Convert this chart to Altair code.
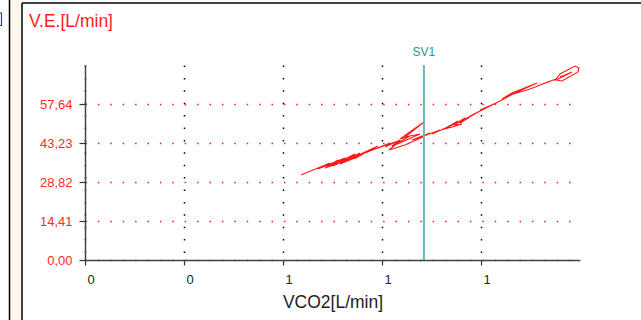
import altair as alt
import pandas as pd

# ---- data ----
vco2 = [0.6545, 0.7424, 0.7061, 0.7879, 0.7182, 0.8030, 0.7515, 0.8333, 0.7727, 0.8394,
        0.7273, 0.7667, 0.7364, 0.8182, 0.7803, 0.8576, 0.8212,
        0.7970, 0.8697, 0.8091, 0.8879, 0.8485, 0.9242, 0.8788, 0.9394, 0.9091, 0.9545,
        0.9303, 0.9848, 0.9545, 1.0273, 0.9697, 1.0152, 0.9394, 0.9212, 0.9697, 1.0303,
        0.9909, 1.0455, 1.0091, 1.0758, 1.0515, 1.1061, 1.0818, 1.1303, 1.0970, 1.1212,
        1.0909, 1.1424, 1.1152, 1.1667, 1.1364,
        1.1515, 1.1212, 1.1818, 1.1515, 1.2030, 1.1667, 1.2273, 1.1970, 1.2455,
        1.2152, 1.2576, 1.3030, 1.3697, 1.2939, 1.2636, 1.3182, 1.2879, 1.3485, 1.4091,
        1.3788, 1.4273, 1.4394, 1.4848, 1.4970, 1.4939, 1.4455, 1.4273, 1.4758, 1.4394]
ve = [31.41, 35.84, 33.62, 37.69, 34.36, 37.69, 34.73, 39.54, 35.47, 38.80,
      33.99, 36.95, 34.36, 39.17, 35.84, 40.27, 37.69,
      36.95, 40.64, 37.69, 42.12, 39.54, 43.23, 41.01, 43.60, 41.75, 44.34,
      42.12, 45.82, 44.71, 50.99, 45.45, 46.56, 42.49, 40.64, 42.49, 45.82,
      44.34, 46.93, 45.08, 48.03, 46.56, 49.51, 48.03, 51.36, 48.77, 50.62,
      48.40, 50.25, 49.88, 52.84, 50.62,
      52.47, 50.25, 53.95, 52.10, 55.42, 53.21, 56.90, 55.42, 58.01,
      56.16, 58.75, 61.70, 65.40, 61.70, 59.49, 62.44, 60.97, 63.18, 66.14,
      64.66, 66.88, 68.73, 71.68, 70.94, 69.46, 66.14, 66.51, 69.46, 67.62]
y_ticks = [0.0, 14.41, 28.82, 43.23, 57.64]
x_ticks = [0.0, 0.3, 0.6, 0.9, 1.2]
x_domain = [0.0, 1.5]
y_domain = [0.0, 72.05]
sv1_x = [1.027]
sv1_label = ["SV1"]
title_text = "V.E.[L/min]"
x_title = "VCO2[L/min]"

W, H = 495, 195
PAD = {"left": 85, "top": 65, "right": 61, "bottom": 60}

trace = pd.DataFrame({"i": list(range(len(vco2))), "vco2": vco2, "ve": ve})
one = pd.DataFrame({"k": [0]})
sv1 = pd.DataFrame({"x": sv1_x, "label": sv1_label})

xs = alt.Scale(domain=x_domain, nice=False, zero=False)
ys = alt.Scale(domain=y_domain, nice=False)

x_axis = alt.Axis(
    values=x_ticks, title=x_title,
    labelExpr="format(datum.value, '.0f')",
    labelAlign="left", labelOffset=2, labelBaseline="top", labelPadding=8,
    labelFontSize=13, labelColor="#222",
    tickSize=5, tickColor="#333", tickWidth=1.2,
    domainColor="#444", domainWidth=1.5,
    grid=True, gridColor="black", gridDash=[1.5, 10.9], gridWidth=1.5,
    titleFontSize=17.5, titleFontWeight="normal", titleColor="#222",
    titleBaseline="alphabetic", titleY=47, titleX=W / 2, titleAlign="center",
)
y_axis = alt.Axis(
    values=y_ticks, title=None,
    labelExpr="replace(format(datum.value, '.2f'), '.', ',')",
    labelFontSize=13, labelColor="#ff2a2a", labelPadding=7,
    tickSize=6, tickColor="#333", tickWidth=1.2,
    domainColor="#444", domainWidth=1.5,
    grid=True, gridColor="#ff1a1a", gridDash=[1.5, 10.9], gridWidth=1.5,
)

line = alt.Chart(trace).mark_line(color="#ff1a1a", strokeWidth=1.1).encode(
    x=alt.X("vco2:Q", scale=xs, axis=x_axis),
    y=alt.Y("ve:Q", scale=ys, axis=y_axis),
    order="i:Q",
)

sv1_rule = alt.Chart(sv1).mark_rule(color="#6ab4b4", strokeWidth=2).encode(
    x=alt.X("x:Q", scale=xs), y=alt.value(0), y2=alt.value(H)
)
sv1_text = alt.Chart(sv1).mark_text(color="#2e9696", fontSize=12, baseline="middle").encode(
    x=alt.X("x:Q", scale=xs), y=alt.value(-13), text="label:N"
)

title = alt.Chart(one).mark_text(
    text=title_text, color="#ff1a1a", fontSize=17.5, align="left", baseline="alphabetic"
).encode(x=alt.value(-56), y=alt.value(-38))

# panel frame decorations
cream = alt.Chart(one).mark_rect(color="#fdf8ec").encode(
    x=alt.value(-75), x2=alt.value(-63.5), y=alt.value(-65), y2=alt.value(255)
)
frame_top = alt.Chart(one).mark_rule(color="black", strokeWidth=1.5).encode(
    x=alt.value(-63), x2=alt.value(556), y=alt.value(-62)
)
frame_left = alt.Chart(one).mark_rule(color="black", strokeWidth=1.5).encode(
    x=alt.value(-63), y=alt.value(-62), y2=alt.value(255)
)
outer_left = alt.Chart(one).mark_rule(color="black", strokeWidth=1.5).encode(
    x=alt.value(-75.5), y=alt.value(-65), y2=alt.value(255)
)
blue_br = alt.Chart(one).mark_rect(fillOpacity=0, stroke="#2233ff", strokeWidth=1.2).encode(
    x=alt.value(-92), x2=alt.value(-83.5), y=alt.value(-52), y2=alt.value(-39.5)
)

chart = alt.layer(
    cream, frame_top, frame_left, outer_left, blue_br,
    line, sv1_rule, sv1_text, title
).properties(
    width=W, height=H, padding=PAD,
    autosize=alt.AutoSizeParams(type="none"),
).configure(
    font="Liberation Sans", background="white", view=alt.ViewConfig(stroke=None)
)

chart.save("out.html", embed_options={"renderer": "svg", "actions": False})
